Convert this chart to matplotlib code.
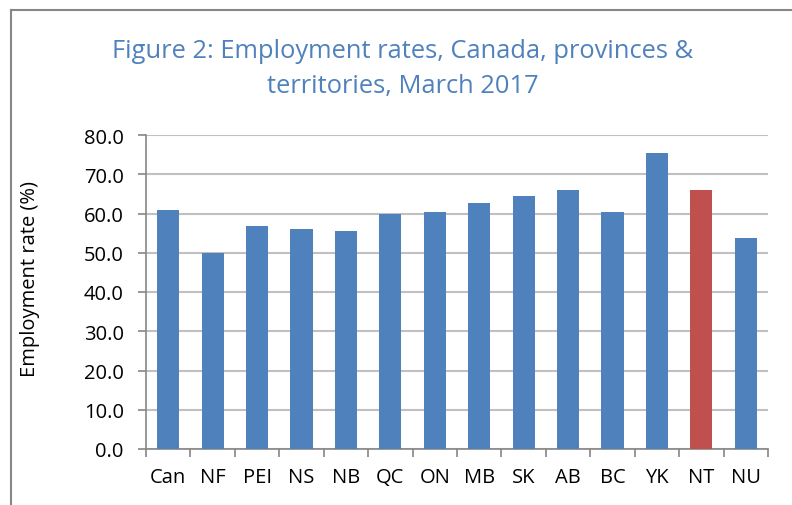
import matplotlib.pyplot as plt
from matplotlib.lines import Line2D
import numpy as np

# Données
regions = ["Can", "NF", "PEI", "NS", "NB", "QC", "ON", "MB", "SK", "AB", "BC", "YK", "NT", "NU"]
rates = [60.9, 49.9, 56.8, 56.1, 55.5, 60.0, 60.5, 62.7, 64.5, 66.0, 60.5, 75.4, 66.0, 53.8]
highlight = "NT"

BLUE = "#4F81BD"
RED = "#C0504D"
GRID = "#C0C0C0"
AXIS = "#868686"

plt.rcParams["font.family"] = ["Open Sans", "DejaVu Sans"]

W, H = 792, 506
fig = plt.figure(figsize=(W / 100, H / 100), dpi=100)
ax = fig.add_axes([146 / W, 1 - 450 / H, (768 - 146) / W, (450 - 136) / H])

x = np.arange(len(regions))
colors = [RED if r == highlight else BLUE for r in regions]
ax.bar(x, rates, width=0.5, color=colors, zorder=3)

ax.set_xlim(-0.5, len(regions) - 0.5)
ax.set_ylim(0, 80)
ax.set_yticks(np.arange(0, 81, 10))
ax.set_yticklabels([f"{v:.1f}" for v in np.arange(0, 81, 10)], fontsize=14.5)
ax.set_xticks(x)
ax.set_xticklabels(regions, fontsize=14.5)
ax.set_xticks(np.arange(-0.5, len(regions)), minor=True)
ax.tick_params(axis="x", which="major", length=0, pad=13)
ax.tick_params(axis="x", which="minor", length=5.5, color=AXIS, width=1.2)
ax.tick_params(axis="y", length=6, color=AXIS, width=1.2, pad=10)

ax.grid(axis="y", color=GRID, linewidth=1.5, zorder=0)
for side in ["top", "right"]:
    ax.spines[side].set_visible(False)
for side in ["left", "bottom"]:
    ax.spines[side].set_color(AXIS)
    ax.spines[side].set_linewidth(1.2)

ax.set_ylabel("Employment rate (%)", fontsize=14.5)
ax.yaxis.set_label_coords((40 - 146) / (768 - 146), 0.545)

fig.text(403 / W, 1 - 69 / H, "Figure 2: Employment rates, Canada, provinces &\nterritories, March 2017",
         ha="center", va="center", color=BLUE, fontsize=18.4, linespacing=1.55)

# Cadre du graphique (bords haut et gauche visibles)
fig.add_artist(Line2D([11 / W, 1.0], [1 - 11 / H, 1 - 11 / H], color=AXIS, lw=1.5, transform=fig.transFigure))
fig.add_artist(Line2D([11 / W, 11 / W], [1 - 11 / H, 0.0], color=AXIS, lw=1.5, transform=fig.transFigure))

fig.savefig("out.png", dpi=100)
